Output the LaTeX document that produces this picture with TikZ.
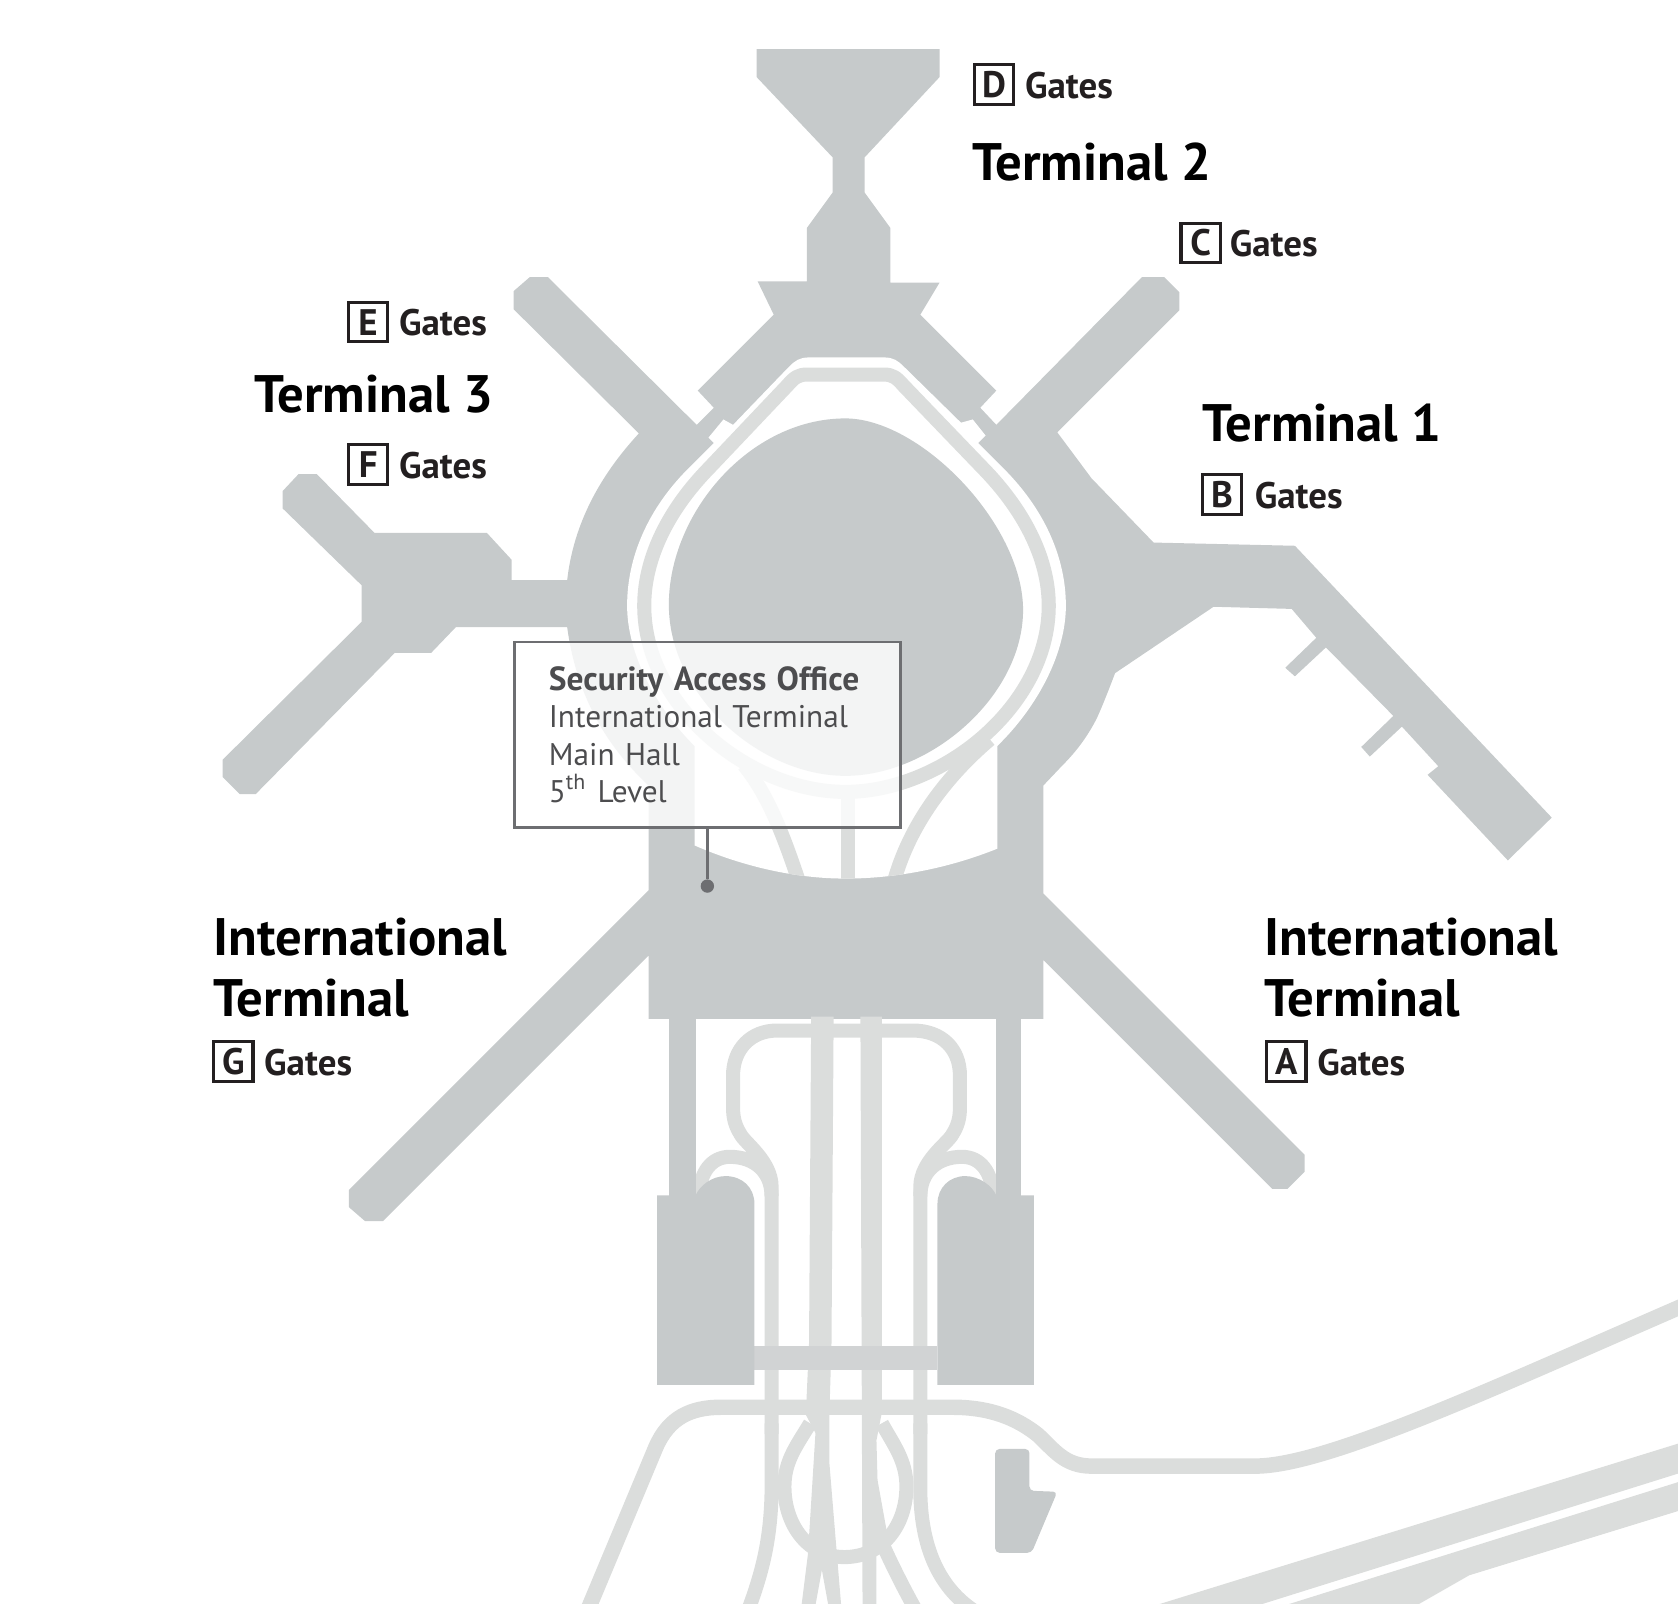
\documentclass[tikz,border=0pt]{standalone}
\usepackage{fontspec}
\setmainfont{PT Sans}
\usetikzlibrary{positioning}
\definecolor{bldg}{HTML}{C6CACB}
\definecolor{road}{HTML}{DBDDDC}
\definecolor{link}{HTML}{D1D3D4}
\definecolor{ink}{HTML}{231F20}
\definecolor{officeline}{HTML}{6D6E71}
\definecolor{note}{HTML}{4D4D4F}
\tikzset{
  roadline/.style={draw=road,line width=4pt,line join=round},
  roadwide/.style={draw=road,line width=4.4pt,line join=round},
  gatebox/.style={draw=ink,line width=.9pt,minimum size=11.2pt,inner sep=0pt,outer sep=0pt,text=ink,font=\fontsize{10.5}{12}\selectfont\bfseries},
  gatelabel/.style={inner sep=0pt,yshift=-.2pt,text=ink,font=\fontsize{10.5}{12}\selectfont\bfseries},
  termlabel/.style={anchor=west,inner sep=0pt,align=left,font=\fontsize{15}{17.4}\selectfont\bfseries},
}
\def\hole{(685,397) -- (737,343) .. controls (743,337) and (747,334) .. (756,334) -- (826,334) .. controls (835,334) and (839,337) .. (845,343) -- (898,395) -- (909,392) -- (921,407) -- (914,414) -- (938,438) .. controls (975,475) and (996,520) .. (996,566) .. controls (996,610) and (970,660) .. (932,697) -- (932,793) .. controls (890,810) and (840,821) .. (790,821) .. controls (740,821) and (690,808) .. (649,790) -- (649,697) .. controls (612,660) and (586,610) .. (586,566) .. controls (586,520) and (606,475) .. (643,438) -- (667,414) -- (662,409) -- (676,392) -- cycle}
\begin{document}
\begin{tikzpicture}[x=0.010702cm,y=-0.010702cm]
    \useasboundingbox (0,0) rectangle (1568,1498);
    \clip (0,0) rectangle (1568,1498);
    % terminals
    \fill[bldg] (707,46) -- (878,46) -- (878,72) -- (808,147) -- (808,180) -- (832,213) -- (832,264) -- (878,264) -- (860,294) -- (931,365) -- (916,381) -- (931,397) -- (1067,259) -- (1088,259) -- (1102,273) -- (1102,290) -- (988,404) -- (1020,447) -- (1078,507) -- (1210,510) -- (1450,764) -- (1409,804) -- (1334,724) -- (1344,716) -- (1310,679) -- (1280,707) -- (1272,698) -- (1302,669) -- (1239,605) -- (1210,632) -- (1201,624) -- (1230,596) -- (1207,569) -- (1134,567) -- (1042,629) .. controls (1034,650) and (1028,665) .. (1024,673) .. controls (1014,692) and (1003,705) .. (993,715) -- (975,734) -- (975,835) -- (1219,1079) -- (1219,1095) -- (1203,1111) -- (1189,1111) -- (975,897) -- (975,952) -- (606,952) -- (606,893) -- (358,1141) -- (341,1141) -- (326,1128) -- (326,1112) -- (606,832) -- (606,734) .. controls (575,705) and (540,660) .. (530,586) -- (426,586) -- (403,610) -- (369,610) -- (239,742) -- (224,742) -- (208,726) -- (208,710) -- (338,581) -- (338,547) -- (264,475) -- (264,459) -- (279,443) -- (296,443) -- (350,498) -- (455,498) -- (478,523) -- (478,542) -- (530,542) .. controls (536,490) and (560,445) .. (597,405) -- (480,289) -- (480,272) -- (495,259) -- (512,259) -- (651,397) -- (667,381) -- (652,365) -- (723,294) -- (708,263) -- (754,263) -- (754,213) -- (778,180) -- (778,147) -- (707,72) -- cycle;
    \fill[white] \hole;
    % ring road
    \begin{scope}
        \clip \hole;
        \draw[roadline] (790,740) .. controls (880,740) and (980,660) .. (980,566) .. controls (980,520) and (955,475) .. (919,438) -- (844,360) .. controls (838,353) and (834,350) .. (826,350) -- (754,350) .. controls (746,350) and (742,353) .. (736,360) -- (662,438) .. controls (626,475) and (602,520) .. (602,566) .. controls (602,660) and (700,740) .. (790,740) -- cycle;
        \draw[roadline] (695,715) .. controls (720,745) and (735,790) .. (747,825);
        \draw[roadline] (792,735) -- (792,825);
        \draw[roadline] (925,691) .. controls (885,725) and (850,770) .. (835,825);
    \end{scope}
    \fill[bldg] (790,391) .. controls (860,391) and (956,490) .. (956,570) .. controls (956,650) and (870,725) .. (790,725) .. controls (710,725) and (625,650) .. (625,565) .. controls (625,480) and (700,391) .. (790,391) -- cycle;
    % roads under the terminal
    \draw[roadline] (721,1340) -- (721,1109) .. controls (721,1085) and (696,1068) .. (692,1060) .. controls (687,1052) and (685,1045) .. (685,1035) -- (685,1005) .. controls (685,980) and (702,963) .. (726,963) -- (853,963) .. controls (880,963) and (897,980) .. (897,1005) -- (897,1035) .. controls (897,1045) and (895,1052) .. (890,1060) .. controls (886,1068) and (860,1085) .. (860,1109) -- (860,1340);
    \draw[roadline] (653,1118) .. controls (654,1095) and (665,1081) .. (682,1081) .. controls (705,1081) and (721,1095) .. (721,1118);
    \draw[roadline] (928,1118) .. controls (927,1095) and (916,1081) .. (899,1081) .. controls (876,1081) and (860,1095) .. (860,1118);
    \fill[road] (758,950) -- (779,950) -- (777,1255) -- (775,1322) -- (775,1367) -- (782,1452) -- (786,1500) -- (774,1500) -- (768,1467) -- (762,1500) -- (749,1500) -- (755,1452) -- (762,1339) -- (753,1322) -- (756,1255) -- cycle;
    \fill[road] (804,950) -- (824,950) -- (824,1320) -- (819,1346) -- (820,1383) -- (829,1433) -- (819,1453) -- (819,1500) -- (806,1500) -- cycle;
    \draw[roadline] (823,1439) .. controls (830,1455) and (842,1480) .. (856,1505);
    \draw[roadline] (721,1330) -- (721,1395) .. controls (720,1440) and (712,1470) .. (699,1505);
    \draw[roadline] (860,1330) -- (860,1395) .. controls (861,1450) and (880,1485) .. (910,1505);
    \draw[roadline] (757,1330) .. controls (745,1350) and (733,1365) .. (733,1389) .. controls (733,1425) and (755,1455) .. (789,1455) .. controls (825,1455) and (847,1425) .. (847,1389) .. controls (847,1365) and (835,1350) .. (824,1330);
    \draw[roadwide] (549,1505) -- (613,1352) .. controls (625,1325) and (645,1315) .. (674,1315) -- (890,1315) .. controls (925,1315) and (950,1325) .. (970,1341) .. controls (985,1355) and (995,1370) .. (1020,1370) -- (1173,1370) .. controls (1240,1370) and (1400,1295) .. (1580,1217);
    \fill[road] (1568,1349) -- (1080,1500) -- (1176,1500) -- (1568,1377) -- cycle;
    \fill[road] (1568,1385) -- (1201,1500) -- (1324,1500) -- (1373,1472) -- (1568,1412) -- cycle;
    % garages
    \fill[bldg] (625,950) rectangle (650,1120);
    \fill[bldg] (931,950) rectangle (954,1120);
    \fill[link] (705,1258) rectangle (876,1280);
    \fill[bldg] (614,1117) -- (650,1117) .. controls (654,1108) and (665,1099) .. (678,1099) .. controls (694,1099) and (705,1110) .. (705,1125) -- (705,1294) -- (614,1294) -- cycle;
    \fill[bldg] (966,1117) -- (931,1117) .. controls (927,1108) and (915,1099) .. (902,1099) .. controls (887,1099) and (876,1110) .. (876,1125) -- (876,1294) -- (966,1294) -- cycle;
    \fill[bldg,rounded corners=1.2pt] (930,1354) -- (962,1354) -- (962,1393) -- (988,1394) -- (964,1451) -- (930,1451) -- cycle;
    % labels
    \node[gatebox] (boxD) at (929,79) {D};
    \node[gatelabel,right=3pt of boxD] (gatesD) {Gates};
    \node[termlabel] (term2) at (908,151) {Terminal 2};
    \node[gatebox] (boxC) at (1122,227) {C};
    \node[gatelabel,right=2.5pt of boxC] (gatesC) {Gates};
    \node[gatebox] (boxE) at (344,301) {E};
    \node[gatelabel,right=3pt of boxE] (gatesE) {Gates};
    \node[termlabel] (term3) at (237,368) {Terminal 3};
    \node[gatebox] (boxF) at (344,434) {F};
    \node[gatelabel,right=3pt of boxF] (gatesF) {Gates};
    \node[termlabel] (term1) at (1123,395) {Terminal 1};
    \node[gatebox] (boxB) at (1142,462) {B};
    \node[gatelabel,right=3.5pt of boxB] (gatesB) {Gates};
    \node[termlabel] (termG) at (199,904) {International\\Terminal};
    \node[gatebox] (boxG) at (218,992) {G};
    \node[gatelabel,right=3pt of boxG] (gatesG) {Gates};
    \node[termlabel] (termA) at (1181,904) {International\\Terminal};
    \node[gatebox] (boxA) at (1202,992) {A};
    \node[gatelabel,right=3pt of boxA] (gatesA) {Gates};
    % office
    \node[circle,fill=officeline,minimum size=3.8pt,inner sep=0pt] (officedot) at (661,828) {};
    \node[anchor=north west,draw=officeline,line width=.8pt,fill=white,fill opacity=.8,text opacity=1,draw opacity=1,text=note,outer sep=0pt,inner xsep=9.7pt,inner ysep=0pt,text width=90.4pt,minimum height=52.7pt,align=left,font=\fontsize{8.9}{10.66}\selectfont] (officebox) at (481,600) {{\fontsize{9.5}{10.66}\selectfont\bfseries Security Access Office}\\International Terminal\\Main Hall\\5\textsuperscript{th} Level};
    \draw[officeline,line width=.85pt] (officebox.south -| officedot) -- (officedot);
\end{tikzpicture}
\end{document}
